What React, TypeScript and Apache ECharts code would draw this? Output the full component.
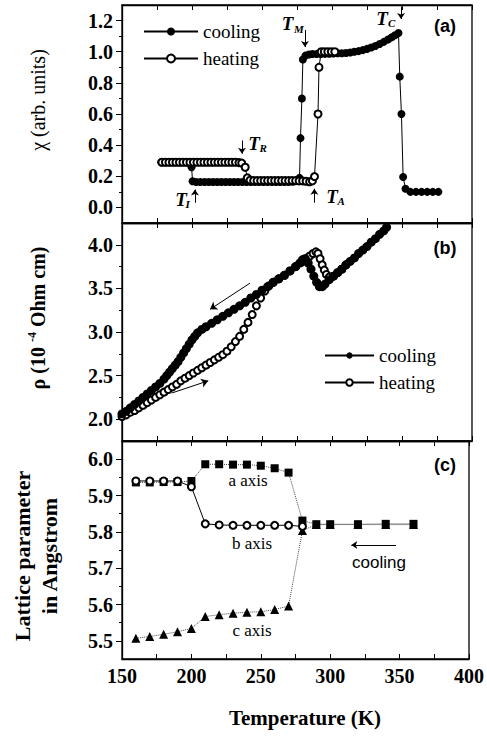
import React, { useEffect, useRef } from 'react';
import * as echarts from 'echarts';

const SERIF = 'Liberation Serif';
const SANS = 'Liberation Sans';

// Axis ticks
const chiTicks = [0, 0.2, 0.4, 0.6, 0.8, 1.0, 1.2];
const chiMinor = [0.1, 0.3, 0.5, 0.7, 0.9, 1.1];
const rhoTicks = [2.0, 2.5, 3.0, 3.5, 4.0];
const rhoMinor = [2.25, 2.75, 3.25, 3.75];
const latTicks = [5.5, 5.6, 5.7, 5.8, 5.9, 6.0];
const latMinor = [5.55, 5.65, 5.75, 5.85, 5.95];

// (a) susceptibility
const chiCooling = [
  [178, 0.29], [181, 0.29], [184, 0.29], [187, 0.29], [190, 0.29], [193, 0.29], [196, 0.29], [198.5, 0.285],
  [199.7, 0.258], [200.4, 0.168], [203, 0.163], [206, 0.163], [209, 0.163], [212, 0.163], [215, 0.163],
  [218, 0.163], [221, 0.163], [224, 0.163], [227, 0.163], [230, 0.163], [233, 0.163], [236, 0.163],
  [239, 0.163], [242, 0.163], [245, 0.163], [248, 0.163], [251, 0.163], [254, 0.163], [257, 0.163],
  [260, 0.163], [263, 0.163], [266, 0.163], [269, 0.163], [272, 0.165], [275, 0.17], [276.8, 0.19],
  [277.5, 0.445], [278.5, 0.7], [279.2, 0.95], [281, 0.975], [283.5, 0.982], [286, 0.985], [289, 0.985],
  [292, 0.985], [295, 0.986], [298, 0.987], [301, 0.988], [304, 0.99], [307, 0.99], [310, 0.992],
  [313, 0.995], [316, 1.0], [319, 1.004], [322, 1.01], [325, 1.018], [328, 1.027], [331, 1.037],
  [334, 1.05], [337, 1.063], [340, 1.078], [342.5, 1.092], [345, 1.106], [347.5, 1.12], [348.4, 0.84],
  [349.6, 0.6], [350.8, 0.195], [352.5, 0.12], [356, 0.1], [360, 0.1], [364, 0.1], [368, 0.1], [372, 0.1], [376, 0.1],
];
const chiHeating = [
  [178.5, 0.29], [181, 0.29], [183.5, 0.29], [186, 0.29], [188.5, 0.29], [191, 0.29], [193.5, 0.29],
  [196, 0.29], [198.5, 0.29], [201, 0.29], [203.5, 0.29], [206, 0.29], [208.5, 0.29], [211, 0.29],
  [213.5, 0.29], [216, 0.29], [218.5, 0.29], [221, 0.29], [223.5, 0.29], [226, 0.29], [228.5, 0.29],
  [231, 0.29], [233.5, 0.288], [235.5, 0.285], [238, 0.258], [239.5, 0.19], [241.5, 0.175], [244, 0.172],
  [246.5, 0.172], [249, 0.172], [251.5, 0.172], [254, 0.172], [256.5, 0.172], [259, 0.172], [261.5, 0.172],
  [264, 0.172], [266.5, 0.172], [269, 0.172], [271.5, 0.172], [274, 0.172], [276.5, 0.17], [279, 0.17],
  [281.5, 0.168], [284, 0.165], [286, 0.17], [287.5, 0.198], [290, 0.6], [290.7, 0.9], [292.3, 1.0],
  [294.5, 1.0], [297, 1.0], [299.5, 1.0], [302, 1.0],
];
const chiArrows = [
  [[280.7, 1.14], [280.7, 1.03]],
  [[349.3, 1.29], [349.3, 1.21]],
  [[235.7, 0.43], [235.7, 0.345]],
  [[202.1, 0.03], [202.1, 0.115]],
  [[287.4, 0.03], [287.4, 0.12]],
];

// (b) resistivity
const rhoCooling = [
  [150, 2.06], [153, 2.09], [156, 2.13], [159, 2.17], [162, 2.21], [165, 2.25], [168, 2.29], [171, 2.33],
  [174, 2.37], [177, 2.41], [180, 2.46], [182, 2.5], [184, 2.54], [186, 2.58], [188, 2.62], [190, 2.66],
  [192, 2.71], [194, 2.76], [196, 2.81], [198, 2.86], [200, 2.91], [202, 2.95], [204, 2.99], [207, 3.03],
  [210, 3.06], [214, 3.1], [218, 3.14], [222, 3.18], [226, 3.22], [230, 3.26], [234, 3.3], [238, 3.34],
  [242, 3.39], [246, 3.43], [250, 3.48], [254, 3.52], [258, 3.57], [262, 3.61], [266, 3.65], [270, 3.7],
  [274, 3.75], [277, 3.79], [279, 3.83], [281, 3.84], [283, 3.79], [285, 3.72], [287, 3.64], [289, 3.57],
  [291, 3.52], [293, 3.52], [295, 3.55], [298, 3.6], [301, 3.64], [304, 3.68], [307, 3.72], [310, 3.77],
  [313, 3.81], [316, 3.85], [319, 3.9], [322, 3.94], [325, 3.98], [328, 4.03], [331, 4.07], [334, 4.12],
  [337, 4.16], [339, 4.2],
];
const rhoHeating = [
  [150, 2.03], [153, 2.05], [156, 2.08], [159, 2.1], [162, 2.13], [165, 2.16], [168, 2.19], [171, 2.22],
  [174, 2.25], [177, 2.28], [180, 2.31], [183, 2.34], [186, 2.37], [189, 2.4], [192, 2.44], [195, 2.47],
  [198, 2.5], [201, 2.53], [204, 2.56], [207, 2.59], [210, 2.62], [213, 2.65], [216, 2.68], [219, 2.71],
  [222, 2.74], [225, 2.78], [228, 2.83], [231, 2.89], [234, 2.95], [237, 3.03], [240, 3.11], [243, 3.2],
  [246, 3.3], [249, 3.39], [252, 3.47], [255, 3.53], [258, 3.57], [262, 3.61], [266, 3.65], [270, 3.7],
  [274, 3.75], [278, 3.8], [281, 3.84], [284, 3.87], [286.5, 3.9], [288.5, 3.92], [290, 3.9], [291.5, 3.84],
  [293, 3.77], [294.5, 3.71], [296, 3.66], [298, 3.63], [301, 3.64], [304, 3.68], [307, 3.72], [310, 3.77],
];
const rhoArrows = [
  [[241.4, 3.56], [212.9, 3.26]],
  [[185.5, 2.3], [211.6, 2.44]],
];

// (c) lattice parameters
const latA = [
  [160, 5.936], [170, 5.936], [180, 5.937], [190, 5.937], [200, 5.94], [210, 5.986], [220, 5.986],
  [230, 5.985], [240, 5.985], [250, 5.982], [260, 5.975], [270, 5.963], [280, 5.831], [290, 5.821],
  [300, 5.821], [320, 5.821], [340, 5.822], [360, 5.822],
];
const latB = [
  [160, 5.94], [170, 5.94], [180, 5.94], [190, 5.94], [200, 5.924], [210, 5.822], [220, 5.819],
  [230, 5.818], [240, 5.818], [250, 5.818], [260, 5.818], [270, 5.818], [280, 5.815],
];
const latC = [
  [160, 5.507], [170, 5.512], [180, 5.518], [190, 5.525], [200, 5.534], [210, 5.567], [220, 5.572],
  [230, 5.576], [240, 5.579], [250, 5.58], [260, 5.586], [270, 5.596], [280, 5.804], [290, 5.82],
  [300, 5.82], [320, 5.82], [340, 5.82], [360, 5.82],
];
const latArrows = [[[347.4, 5.764], [315.2, 5.764]]];

const GRIDS = [
  { top: 5, height: 218 },
  { top: 223, height: 218 },
  { top: 441, height: 218 },
];

function xAxes(g: number, labels: boolean) {
  const base = {
    type: 'value',
    gridIndex: g,
    min: 150,
    max: 400,
    interval: 25,
    axisLine: { show: true, onZero: false, lineStyle: { color: '#000', width: 1.3 } },
    axisTick: { show: true, inside: true, length: 5, lineStyle: { color: '#000', width: 1 } },
    splitLine: { show: false },
  };
  return [
    {
      ...base,
      position: 'bottom',
      axisLabel: {
        show: labels,
        formatter: (v: number) => (v % 50 === 0 ? String(v) : ''),
        fontFamily: SERIF,
        fontWeight: 'bold',
        fontSize: 20,
        color: '#000',
        margin: 7,
      },
    },
    { ...base, position: 'top', axisLabel: { show: false } },
  ];
}

function yAxes(g: number, min: number, max: number, ticks: number[], minor: number[]) {
  return [
    {
      type: 'value',
      gridIndex: g,
      position: 'left',
      min,
      max,
      axisLine: { show: true, onZero: false, lineStyle: { color: '#000', width: 1.3 } },
      axisTick: { show: true, inside: false, length: 6, customValues: ticks, lineStyle: { color: '#000', width: 1 } },
      axisLabel: {
        show: true,
        customValues: ticks,
        formatter: (v: number) => v.toFixed(1),
        fontFamily: SERIF,
        fontWeight: 'bold',
        fontSize: 20,
        color: '#000',
        margin: 9,
      },
      splitLine: { show: false },
    },
    {
      type: 'value',
      gridIndex: g,
      position: 'left',
      min,
      max,
      axisLine: { show: false },
      axisTick: { show: true, inside: false, length: 3, customValues: minor, lineStyle: { color: '#000', width: 1 } },
      axisLabel: { show: false },
      splitLine: { show: false },
    },
  ];
}

function arrowLine(arr: number[][][], size = 7) {
  return {
    silent: true,
    symbol: ['none', 'arrow'],
    symbolSize: size,
    label: { show: false },
    lineStyle: { color: '#000', width: 1, type: 'solid' },
    itemStyle: { color: '#000' },
    emphasis: { disabled: true },
    data: arr.map(([a, b]) => [{ coord: a }, { coord: b }]),
  };
}

function tLabel(main: string, sub: string, x: number, y: number, sx: number, sy: number) {
  return [
    {
      type: 'text',
      x,
      y,
      style: {
        text: main,
        font: `italic bold 19px ${SERIF}`,
        fill: '#000',
        align: 'center',
        verticalAlign: 'middle',
        textAlign: 'center',
        textVerticalAlign: 'middle',
      },
    },
    {
      type: 'text',
      x: sx,
      y: sy,
      style: {
        text: sub,
        font: `italic bold 11px ${SERIF}`,
        fill: '#000',
        align: 'left',
        verticalAlign: 'middle',
        textAlign: 'left',
        textVerticalAlign: 'middle',
      },
    },
  ];
}

function txt(text: string, x: number, y: number, font: string, rotation = 0) {
  return {
    type: 'text',
    x,
    y,
    rotation,
    style: {
      text,
      font,
      fill: '#000',
      align: 'center',
      verticalAlign: 'middle',
      textAlign: 'center',
      textVerticalAlign: 'middle',
    },
  };
}

const lineBase = {
  type: 'line',
  emphasis: { disabled: true },
  lineStyle: { color: '#000', width: 1 },
  z: 3,
};

function legendOpt(left: number, top: number, w: number, h: number) {
  return {
    data: ['cooling', 'heating'],
    orient: 'vertical',
    left,
    top,
    padding: 0,
    itemWidth: w,
    itemHeight: h,
    itemGap: 8,
    selectedMode: false,
    textStyle: { fontFamily: SERIF, fontSize: 19, color: '#000', lineHeight: 19 },
  };
}

function buildOption() {
  return {
    animation: false,
    backgroundColor: '#fff',
    textStyle: { fontFamily: SERIF, color: '#000' },
    grid: GRIDS.map((g) => ({
      left: 122,
      width: 350,
      top: g.top,
      height: g.height,
      show: true,
      borderColor: '#000',
      borderWidth: 1.3,
      backgroundColor: 'transparent',
    })),
    xAxis: [...xAxes(0, false), ...xAxes(1, false), ...xAxes(2, true)],
    yAxis: [
      ...yAxes(0, -0.1, 1.3, chiTicks, chiMinor),
      ...yAxes(1, 1.75, 4.25, rhoTicks, rhoMinor),
      ...yAxes(2, 5.45, 6.05, latTicks, latMinor),
    ],
    legend: [legendOpt(143, 22, 54, 10), legendOpt(324, 346, 49, 8)],
    series: [
      {
        ...lineBase,
        name: 'cooling',
        xAxisIndex: 0,
        yAxisIndex: 0,
        data: chiCooling,
        symbol: 'circle',
        symbolSize: 8,
        itemStyle: { color: '#000' },
        markLine: arrowLine(chiArrows, 6),
      },
      {
        ...lineBase,
        name: 'heating',
        xAxisIndex: 0,
        yAxisIndex: 0,
        data: chiHeating,
        symbol: 'emptyCircle',
        symbolSize: 7,
        itemStyle: { color: '#000', borderColor: '#000', borderWidth: 1 },
      },
      {
        ...lineBase,
        name: 'heating',
        xAxisIndex: 2,
        yAxisIndex: 2,
        data: rhoHeating,
        symbol: 'emptyCircle',
        symbolSize: 7,
        itemStyle: { color: '#000', borderColor: '#000', borderWidth: 1.3 },
      },
      {
        ...lineBase,
        name: 'cooling',
        xAxisIndex: 2,
        yAxisIndex: 2,
        data: rhoCooling,
        symbol: 'circle',
        symbolSize: 9,
        itemStyle: { color: '#000' },
        markLine: arrowLine(rhoArrows, 7),
      },
      {
        ...lineBase,
        name: 'c axis',
        xAxisIndex: 4,
        yAxisIndex: 4,
        data: latC,
        symbol: 'triangle',
        symbolSize: 9,
        itemStyle: { color: '#000' },
        lineStyle: { color: '#444', width: 1, type: 'dotted' },
      },
      {
        ...lineBase,
        name: 'a axis',
        xAxisIndex: 4,
        yAxisIndex: 4,
        data: latA,
        symbol: 'rect',
        symbolSize: 8,
        itemStyle: { color: '#000' },
        lineStyle: { color: '#444', width: 1, type: 'dotted' },
        markLine: arrowLine(latArrows, 6),
      },
      {
        ...lineBase,
        name: 'b axis',
        xAxisIndex: 4,
        yAxisIndex: 4,
        data: latB,
        symbol: 'emptyCircle',
        symbolSize: 7,
        itemStyle: { color: '#000', borderColor: '#000', borderWidth: 1 },
        lineStyle: { color: '#000', width: 1 },
      },
    ],
    graphic: [
      ...tLabel('T', 'M', 287.5, 23, 294, 29),
      ...tLabel('T', 'C', 382, 18, 388, 23),
      ...tLabel('T', 'R', 254, 143, 259.5, 147.5),
      ...tLabel('T', 'I', 181, 199, 185.5, 204),
      ...tLabel('T', 'A', 332, 196, 337.5, 201),
      txt('(a)', 445, 26, `bold 18px ${SANS}`),
      txt('(b)', 445, 248, `bold 18px ${SANS}`),
      txt('(c)', 445, 465, `bold 18px ${SANS}`),
      txt('a axis', 248, 480, `17px ${SERIF}`),
      txt('b axis', 252, 543, `17px ${SERIF}`),
      txt('c axis', 252, 630, `17px ${SERIF}`),
      txt('cooling', 379, 562, `17px ${SANS}`),
      txt('Temperature (K)', 305, 718, `bold 21px ${SERIF}`),
      txt('χ (arb. units)', 38, 100, `20px ${SERIF}`, Math.PI / 2),
      {
        type: 'text',
        x: 37,
        y: 318,
        rotation: Math.PI / 2,
        style: {
          text: '{a|ρ (10 }{s|-4}{a| Ohm cm)}',
          rich: {
            a: { fontFamily: SERIF, fontWeight: 'bold', fontSize: 20, fill: '#000', color: '#000', verticalAlign: 'bottom', lineHeight: 22 },
            s: { fontFamily: SERIF, fontWeight: 'bold', fontSize: 12, fill: '#000', color: '#000', verticalAlign: 'top', lineHeight: 22 },
          },
          fill: '#000',
          align: 'center',
          verticalAlign: 'middle',
          textAlign: 'center',
          textVerticalAlign: 'middle',
        },
      },
      txt('Lattice parameter', 22, 556, `bold 22px ${SERIF}`, Math.PI / 2),
      txt('in Angstrom', 49, 556, `bold 22px ${SERIF}`, Math.PI / 2),
    ],
  };
}

export default function App() {
  const ref = useRef<HTMLDivElement>(null);
  useEffect(() => {
    if (!ref.current) return;
    const chart = echarts.init(ref.current, null, { renderer: 'svg' });
    chart.setOption(buildOption() as any);
    return () => chart.dispose();
  }, []);
  return (
    <div
      ref={ref}
      style={{ position: 'absolute', left: 0, top: 0, width: 487, height: 737, background: '#fff' }}
    />
  );
}
